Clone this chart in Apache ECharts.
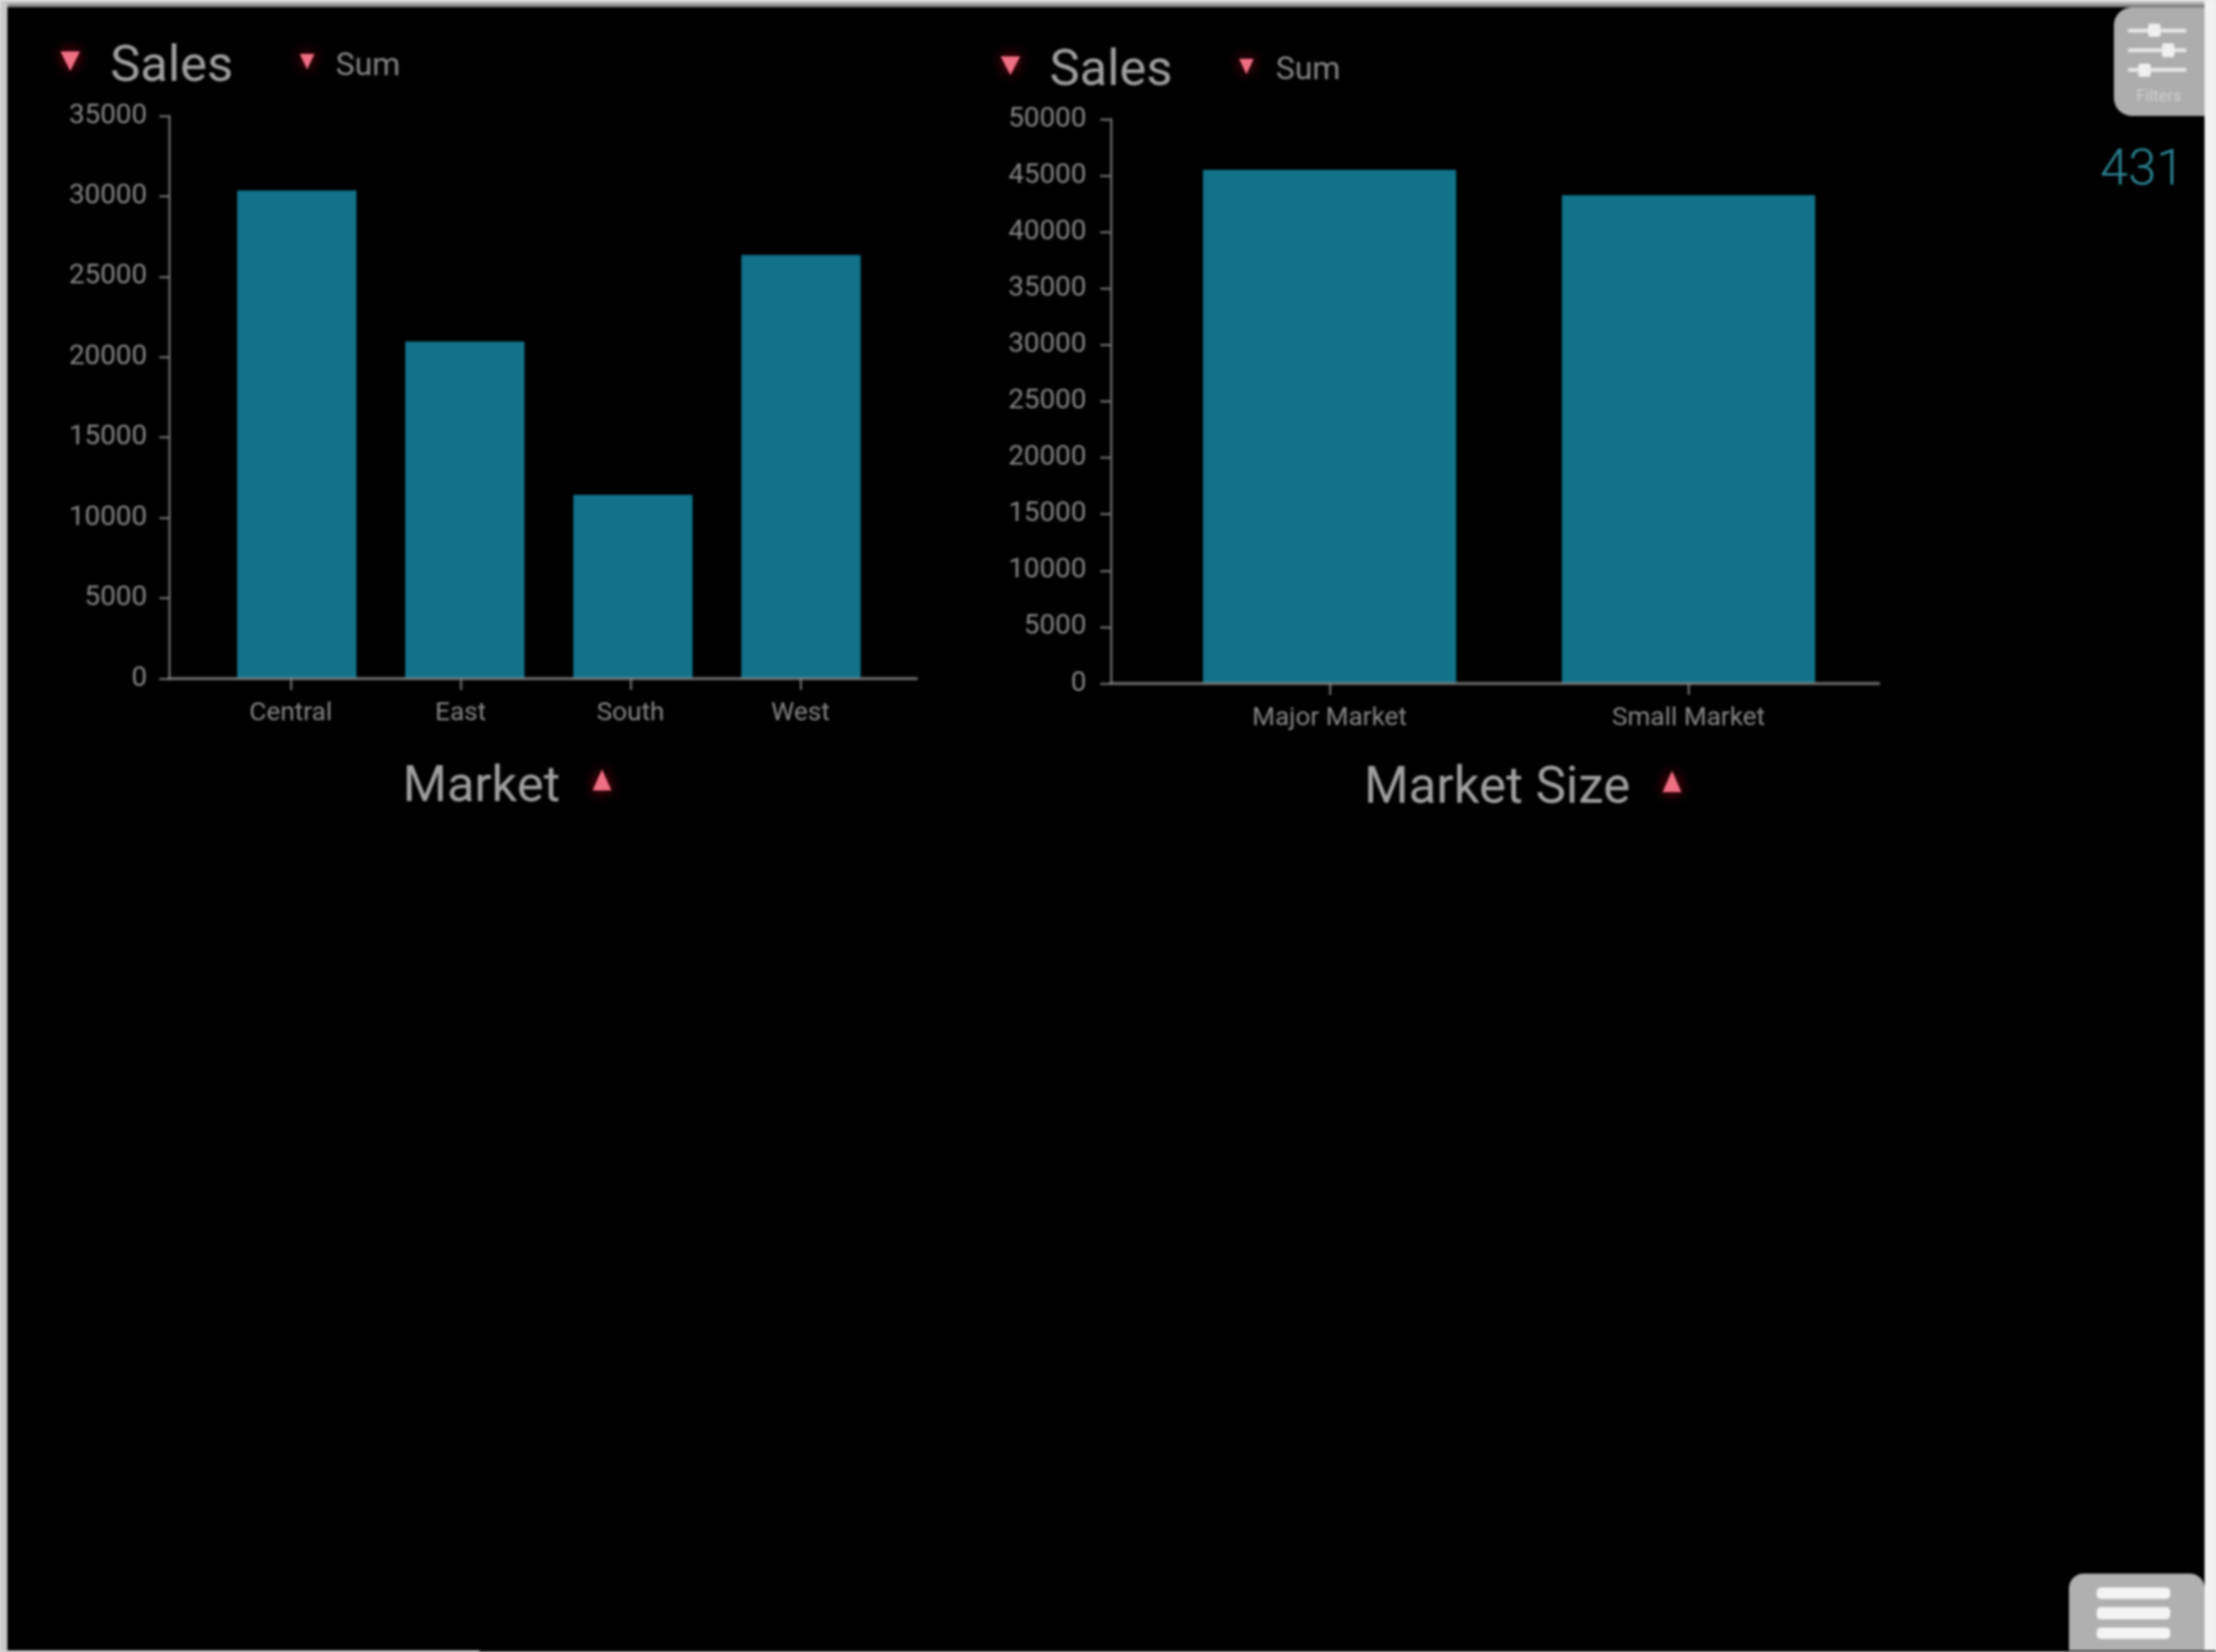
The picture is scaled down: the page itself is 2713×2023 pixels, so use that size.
<!DOCTYPE html>
<html><head><meta charset="utf-8">
<style>html,body{margin:0;padding:0;background:#ececec}#c{width:2713px;height:2023px;filter:blur(1.7px)}</style>
<script src="https://cdn.jsdelivr.net/npm/echarts@6/dist/echarts.min.js"></script>
</head><body><div id="c"></div>
<script>
const marketCategories = ['Central', 'East', 'South', 'West'];
const marketSales = [30360, 20970, 11430, 26350];
const marketAxisMax = 35000;
const sizeCategories = ['Major Market', 'Small Market'];
const sizeSales = [45510, 43270];
const sizeAxisMax = 50000;
const tickStep = 5000;
const measureTitle = 'Sales';
const aggregationLabel = 'Sum';
const marketTitle = 'Market';
const sizeTitle = 'Market Size';
const recordCount = '431';
const filterLabel = 'Filters';

const FONT = 'Roboto';
const W = 2713, H = 2023;
const TEXT = '#868686', TITLE = '#a0a0a0', BAR = '#11728a', AXIS = 'rgba(135,135,135,0.72)', RED = '#ef6f84';

const panels = [
  {cats: marketCategories, vals: marketSales, max: marketAxisMax, ax: [207, 1122], top: 142, bottom: 831, bar: [260.5, 823], lab: [252, 832], barW: 146, labelMargin: 27, tick: 12},
  {cats: sizeCategories, vals: sizeSales, max: sizeAxisMax, ax: [1360, 2300], top: 146, bottom: 837, bar: [1408, 879], lab: [1408, 879], barW: 310, labelMargin: 30, tick: 13}
];

const grid = [], xAxis = [], yAxis = [], series = [];
panels.forEach(p => {
  const height = p.bottom - p.top;
  const g0 = grid.length;
  grid.push({left: p.ax[0], top: p.top, width: p.ax[1] - p.ax[0], height});
  grid.push({left: p.bar[0], top: p.top, width: p.bar[1], height});
  grid.push({left: p.lab[0], top: p.top, width: p.lab[1], height});
  // outer frame: value axis and the long baseline
  xAxis.push({gridIndex: g0, type: 'category', data: p.cats, z: 6,
    axisLine: {show: true, lineStyle: {color: AXIS, width: 4}},
    axisTick: {show: false}, axisLabel: {show: false}, splitLine: {show: false}});
  yAxis.push({gridIndex: g0, type: 'value', min: 0, max: p.max, interval: tickStep, z: 6,
    axisLine: {show: true, lineStyle: {color: AXIS, width: 3}},
    axisTick: {show: true, length: p.tick, lineStyle: {color: AXIS, width: 3}},
    axisLabel: {show: true, color: TEXT, fontFamily: FONT, fontSize: 34, margin: p.labelMargin, formatter: v => String(v), padding: [10, 0, 0, 0]},
    splitLine: {show: false}});
  // bars
  xAxis.push({gridIndex: g0 + 1, type: 'category', data: p.cats, show: false});
  yAxis.push({gridIndex: g0 + 1, type: 'value', min: 0, max: p.max, interval: tickStep, show: false});
  series.push({type: 'bar', name: measureTitle, xAxisIndex: g0 + 1, yAxisIndex: g0 + 1, data: p.vals,
    barWidth: p.barW, itemStyle: {color: BAR}, animation: false, z: 2});
  // category ticks and labels
  xAxis.push({gridIndex: g0 + 2, type: 'category', data: p.cats, z: 6,
    axisLine: {show: false},
    axisTick: {show: true, alignWithLabel: true, interval: 0, length: 14, lineStyle: {color: AXIS, width: 3}},
    axisLabel: {show: true, interval: 0, color: TEXT, fontFamily: FONT, fontSize: 32, margin: 27},
    splitLine: {show: false}});
  yAxis.push({gridIndex: g0 + 2, type: 'value', min: 0, max: p.max, interval: tickStep, show: false});
});

const tri = (cx, y0, y1, w, up) => ({
  type: 'polygon', z: 8,
  shape: {points: up ? [[cx, y0], [cx + w / 2, y1], [cx - w / 2, y1]] : [[cx - w / 2, y0], [cx + w / 2, y0], [cx, y1]]},
  style: {fill: RED, shadowBlur: 16, shadowColor: 'rgba(170,0,20,0.9)'}
});
const txt = (x, y, text, size, fill, align, weight) => ({
  type: 'text', z: 8, x, y,
  style: {text, fontFamily: FONT, fontSize: size, fontWeight: weight || 400, fill, align: align || 'left', verticalAlign: 'middle'}
});
const rect = (x, y, w, h, fill, r, z) => ({type: 'rect', z: z === undefined ? 8 : z, shape: {x, y, width: w, height: h, r: r || 0}, style: {fill}});

const graphicElements = [
  // window frame
  rect(9, 9, 2690, 2012, '#000000', 0, -20),
  rect(0, 0, 9, H, '#c9c9c9', 0, -19),
  rect(2699, 0, 14, H, '#f2f2f2', 0, -19),
  {type: 'rect', z: -18, shape: {x: 9, y: 0, width: 2690, height: 9},
    style: {fill: {type: 'linear', x: 0, y: 0, x2: 0, y2: 1, colorStops: [{offset: 0, color: '#e8e8e8'}, {offset: 1, color: '#6a6a6a'}]}}},
  rect(0, 2021, 587, 2, '#c4c4c4', 0, -18),
  rect(587, 2021, 2126, 2, '#1c1c1c', 0, -18),
  // left panel headers
  tri(86, 63, 87, 24, false), txt(135, 83, measureTitle, 62, TITLE),
  tri(376, 66, 85, 18, false), txt(411, 82, aggregationLabel, 39, TEXT),
  txt(493, 965, marketTitle, 62, TITLE), tri(737, 942, 968, 23, true),
  // right panel headers
  tri(1237, 69, 92, 24, false), txt(1285, 88, measureTitle, 62, TITLE),
  tri(1526, 72, 91, 18, false), txt(1562, 87, aggregationLabel, 39, TEXT),
  txt(1670, 967, sizeTitle, 62.5, TITLE), tri(2047, 944, 970, 23, true),
  // record count
  txt(2571, 210, recordCount, 62, '#2c8494', 'left', 300),
  // filter button
  rect(2588, 9, 111, 133, '#adadad', [22, 0, 0, 22]),
  rect(2605, 35, 72, 5, '#e4e4e4', 2), rect(2630, 29, 15, 16, '#f0f0f0', 2),
  rect(2605, 59, 72, 5, '#e4e4e4', 2), rect(2647, 53, 15, 17, '#f0f0f0', 2),
  rect(2605, 83, 72, 5, '#e4e4e4', 2), rect(2618, 78, 15, 16, '#f0f0f0', 2),
  txt(2643, 119, filterLabel, 20, '#cfcfcf', 'center'),
  // menu button
  rect(2533, 1927, 166, 94, '#b0b0b0', [18, 18, 0, 0]),
  rect(2567, 1944, 90, 14, '#f4f4f4', 5),
  rect(2567, 1968, 90, 15, '#f4f4f4', 5),
  rect(2567, 1993, 90, 14, '#f4f4f4', 5)
];

const chart = echarts.init(document.getElementById('c'), null, {width: W, height: H});
chart.setOption({
  backgroundColor: '#000000',
  animation: false,
  grid, xAxis, yAxis, series,
  graphic: {elements: graphicElements}
});
</script></body></html>
